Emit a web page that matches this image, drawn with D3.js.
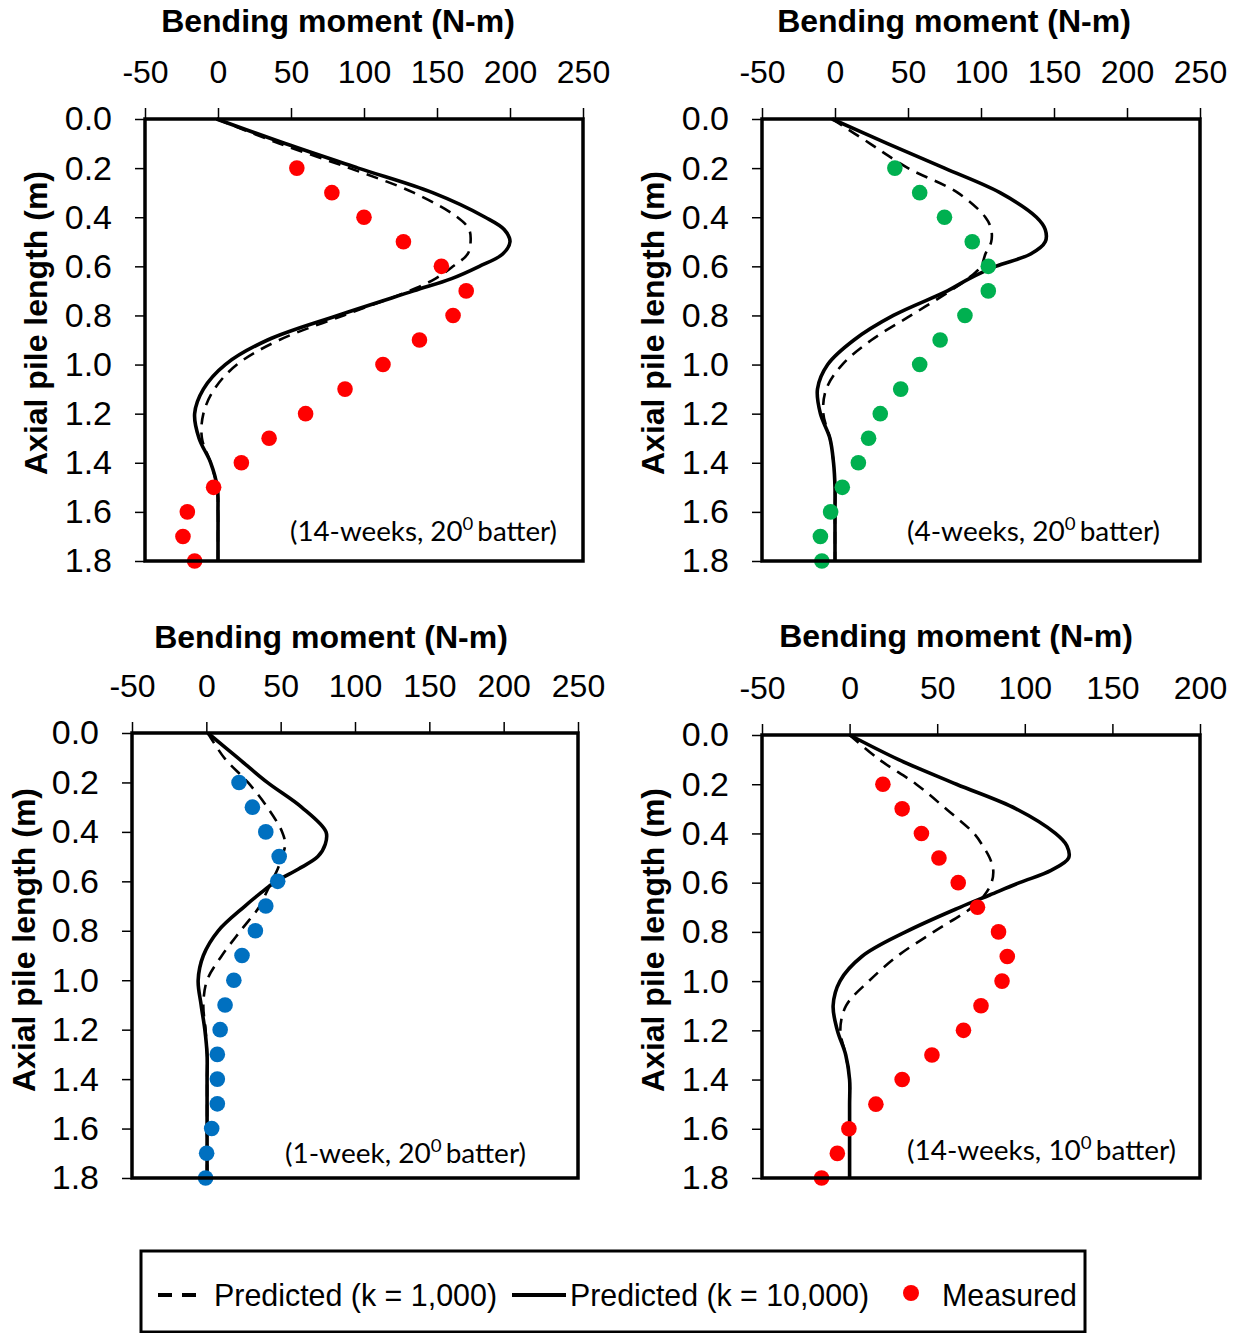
<!DOCTYPE html>
<html><head><meta charset="utf-8">
<script src="https://cdn.jsdelivr.net/npm/d3@7"></script>
<style>body{margin:0;background:#fff}</style></head>
<body>
<svg id="c" width="1240" height="1333"></svg>
<script>
// ---------- DATA ----------
const depthPred = [0,0.1,0.2,0.3,0.4,0.45,0.5,0.55,0.6,0.65,0.7,0.8,0.9,1.0,1.1,1.2,1.3,1.4,1.5,1.6,1.7,1.8];
const depthMeas = [0.2,0.3,0.4,0.5,0.6,0.7,0.8,0.9,1.0,1.1,1.2,1.3,1.4,1.5,1.6,1.7,1.8];
const yTicks = [0,0.2,0.4,0.6,0.8,1.0,1.2,1.4,1.6,1.8];
const xTicksA = [-50,0,50,100,150,200,250];
const xTicksB = [-50,0,50,100,150,200];

// 14-weeks, 20 deg batter
const tl_k1000  = [-1,42,90,134,164,172,173,171,161,149,131,86,42,13,-2.5,-10,-11,-5,-0.5,0,0,0];
const tl_k10000 = [-1,46,96,147,183,196,200,195,179,160,134,82,34,5,-10,-16,-13,-5,-0.5,0,0,0];
const tl_meas   = [54,78,100,127,153,170,161,138,113,87,60,35,16,-3,-21,-24,-16];
// 4-weeks, 20 deg batter
const tr_k1000  = [-2,24,50,84,103,107,107,103,100,91,79,52,25,5,-6,-8,-3.5,-1,0,0,0,0];
const tr_k10000 = [-2,36,75,113,138,144,144,134,110,92,77,40,13,-5,-12,-10,-3.5,-1,0,0,0,0];
const tr_meas   = [41,58,75,94,105,105,89,72,58,45,31,23,16,5,-3,-10,-9];
// 1-week, 20 deg batter
const bl_k1000  = [1,12,28,41,51,53,51,48,44,40,36,23,10.5,0.5,-2,-0.5,0.5,0.5,0.5,0.5,0.5,0.5];
const bl_k10000 = [1,21,41,64,80.5,80,75,62,47,36,26,8,-2,-5.5,-3.5,-1,0.5,0.5,0.5,0.5,0.5,0.5];
const bl_meas   = [22,31,40,49,48,40,33,24,18.5,12.6,9.3,7.4,7.4,7.4,3.6,0.2,-0.5];
// 14-weeks, 10 deg batter
const br_k1000  = [0,17,38,55,71,76,80,82,81,77,70,48,27,11,-2,-5.3,-2.2,0,0,0,0,0];
const br_k10000 = [0,28,61,95,117.5,124,125,115,97,80,63,32,7,-5.5,-9.4,-7,-2.2,0,0,0,0,0];
const br_meas   = [19,30,41,51,62,73,85,90,87,75,65,47,30,15,-0.4,-7,-16];

const notes = [["(14-weeks, 20","0","batter)"],["(4-weeks, 20","0","batter)"],["(1-week, 20","0","batter)"],["(14-weeks, 10","0","batter)"]];
const legendLabels = ["Predicted (k = 1,000)","Predicted (k = 10,000)","Measured"];
const titleText = "Bending moment (N-m)";
const yLabelText = "Axial pile length (m)";

// ---------- LAYOUT ----------
const panels = [
  {k1:tl_k1000,k10:tl_k10000,meas:tl_meas,note:notes[0],color:"#FF0000",xTicks:xTicksA,xDom:[-50,250],xr:[145,583],yr:[119,561],tX:338,tY:32,ylX:47,ylY:323,nX:290,nY:541,nL:267},
  {k1:tr_k1000,k10:tr_k10000,meas:tr_meas,note:notes[1],color:"#00B050",xTicks:xTicksA,xDom:[-50,250],xr:[762,1200],yr:[119,561],tX:954,tY:32,ylX:664,ylY:323,nX:907,nY:541,nL:253},
  {k1:bl_k1000,k10:bl_k10000,meas:bl_meas,note:notes[2],color:"#0070C0",xTicks:xTicksA,xDom:[-50,250],xr:[132,578],yr:[733,1178],tX:331,tY:648,ylX:35,ylY:940,nX:285,nY:1163,nL:241},
  {k1:br_k1000,k10:br_k10000,meas:br_meas,note:notes[3],color:"#FF0000",xTicks:xTicksB,xDom:[-50,200],xr:[762,1200],yr:[735,1178],tX:956,tY:647,ylX:664,ylY:940,nX:907,nY:1160,nL:269}
];

const svg = d3.select("#c");
const FONT = "'Liberation Sans', Arial, sans-serif";

panels.forEach(p => {
  const x = d3.scaleLinear().domain(p.xDom).range(p.xr);
  const y = d3.scaleLinear().domain([0,1.8]).range(p.yr);
  const g = svg.append("g");

  // axes
  const ax = g.append("g").attr("transform",`translate(0,${p.yr[0]})`)
    .call(d3.axisTop(x).tickValues(p.xTicks).tickSize(11).tickPadding(25).tickFormat(d => String(d)));
  ax.select(".domain").remove();
  ax.selectAll("line").attr("stroke","#000").attr("stroke-width",1.5);
  ax.selectAll("text").attr("font-family",FONT).attr("font-size",32).attr("fill","#000");

  const ay = g.append("g").attr("transform",`translate(${p.xr[0]},0)`)
    .call(d3.axisLeft(y).tickValues(yTicks).tickSize(10).tickPadding(23).tickFormat(d => d.toFixed(1)));
  ay.select(".domain").remove();
  ay.selectAll("line").attr("stroke","#000").attr("stroke-width",1.5);
  ay.selectAll("text").attr("font-family",FONT).attr("font-size",34).attr("fill","#000");

  // lines
  const line = d3.line().x(d=>x(d[0])).y(d=>y(d[1])).curve(d3.curveCatmullRom.alpha(0.5));
  g.append("path").datum(p.k1.map((v,i)=>[v,depthPred[i]]))
    .attr("d",line).attr("fill","none").attr("stroke","#000").attr("stroke-width",2.6).attr("stroke-dasharray","12,8");
  g.append("path").datum(p.k10.map((v,i)=>[v,depthPred[i]]))
    .attr("d",line).attr("fill","none").attr("stroke","#000").attr("stroke-width",3.6);

  // measured
  g.selectAll("circle.m").data(p.meas.map((v,i)=>[v,depthMeas[i]])).enter().append("circle")
    .attr("cx",d=>x(d[0])).attr("cy",d=>y(d[1])).attr("r",7.8).attr("fill",p.color);

  // box
  g.append("rect").attr("x",p.xr[0]).attr("y",p.yr[0]).attr("width",p.xr[1]-p.xr[0]).attr("height",p.yr[1]-p.yr[0])
    .attr("fill","none").attr("stroke","#000").attr("stroke-width",3.5);

  // title
  g.append("text").attr("x",p.tX).attr("y",p.tY).attr("text-anchor","middle")
    .attr("font-family",FONT).attr("font-weight","bold").attr("font-size",32).text(titleText);
  // y label
  g.append("text").attr("transform",`translate(${p.ylX},${p.ylY}) rotate(-90)`).attr("text-anchor","middle")
    .attr("font-family",FONT).attr("font-weight","bold").attr("font-size",32).text(yLabelText);

  // note
  const t = g.append("text").attr("x",p.nX).attr("y",p.nY).attr("font-family","Lato, 'Open Sans', sans-serif")
    .attr("font-size",27).attr("fill","#000").attr("textLength",p.nL).attr("lengthAdjust","spacingAndGlyphs");
  t.append("tspan").text(p.note[0]);
  t.append("tspan").attr("dy",-11).attr("font-size",18).text(p.note[1]);
  t.append("tspan").attr("dy",11).attr("dx",4).text(p.note[2]);
});

// ---------- LEGEND ----------
const lg = svg.append("g");
lg.append("rect").attr("x",141).attr("y",1251).attr("width",944).attr("height",81)
  .attr("fill","none").attr("stroke","#000").attr("stroke-width",3);
lg.append("line").attr("x1",158).attr("x2",200).attr("y1",1295).attr("y2",1295)
  .attr("stroke","#000").attr("stroke-width",4).attr("stroke-dasharray","14,10");
lg.append("line").attr("x1",512).attr("x2",566).attr("y1",1295).attr("y2",1295)
  .attr("stroke","#000").attr("stroke-width",4);
lg.append("circle").attr("cx",911).attr("cy",1293).attr("r",8).attr("fill","#FF0000");
const lx = [214,570,942], lw = [283,299,135];
legendLabels.forEach((s,i)=>{
  lg.append("text").attr("x",lx[i]).attr("y",1306).attr("font-family",FONT).attr("font-size",32)
    .attr("textLength",lw[i]).attr("lengthAdjust","spacingAndGlyphs").text(s);
});
</script>
</body></html>
